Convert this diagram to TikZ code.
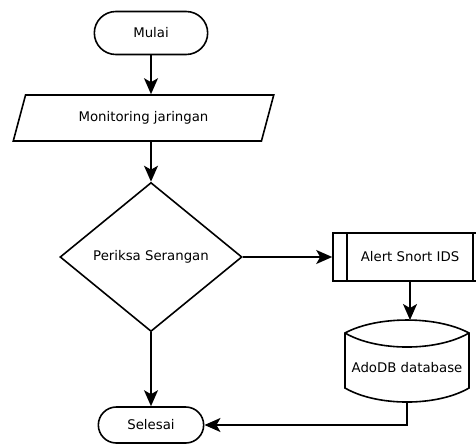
\documentclass[tikz,border=0pt]{standalone}
\usepackage{fontspec}
\setmainfont{DejaVu Sans}
\usetikzlibrary{shapes.geometric,shapes.misc,arrows.meta}
\tikzset{
  flow/.style={
    line width=1.6pt,
    -{Stealth[length=16pt,width=14pt,inset=4pt]}
  },
  terminal/.style={
    shape = rounded rectangle,
    draw,
    line width=1.6pt,
    minimum width=120pt,
    minimum height=43pt
  },
  inout/.style={
    shape = trapezium,
    trapezium left angle=70,
    trapezium right angle=110,
    trapezium stretches=true,
    draw,
    line width=1.6pt,
    minimum width=261pt,
    minimum height=46pt
  },
  decision/.style={
    shape = diamond,
    draw,
    line width=1.6pt,
    minimum width=182pt,
    minimum height=149pt
  },
  process/.style={
    shape = rectangle,
    draw,
    line width=1.6pt,
    minimum width=154pt,
    minimum height=48pt
  },
  every picture/.style = {
    font=\fontsize{13.3pt}{16pt}\selectfont
  }
}

\begin{document}
\begin{tikzpicture}[x=1pt,y=-1pt]
        \useasboundingbox (0,0) rectangle (476,444);
        \node[terminal] (mulai) at (151,33) {Mulai};
        \node[inout] (monitor) at (143.5,118) {Monitoring jaringan};
        \node[decision] (periksa) at (151,257) {Periksa Serangan};
        \node[process] (alert) at (410,257) {Alert Snort IDS};
        \draw[line width=1.6pt] ([xshift=15pt]alert.north west)--([xshift=15pt]alert.south west);
        \draw[line width=1.6pt] ([xshift=-15pt]alert.north east)--([xshift=-15pt]alert.south east);
        %database
        \begin{scope}[shift={(407,368)},line width=1.6pt]
          \draw (-62,-35) .. controls (-30,-52.3) and (30,-52.3) .. (62,-35)
            -- (62,20) .. controls (30,38.7) and (-30,38.7) .. (-62,20) -- cycle;
          \draw (-62,-35) .. controls (-30,-16.3) and (30,-16.3) .. (62,-35);
          \coordinate (dbtop) at (0,-48);
          \coordinate (dbbot) at (0,34);
        \end{scope}
        \node (adodb) at (407,368) {AdoDB database};
        \node[terminal,minimum width=112pt,minimum height=36pt] (selesai) at (151,425) {Selesai};
        \draw[flow] (mulai.south)--(mulai.south |- monitor.north);
        \draw[flow] (periksa.north |- monitor.south)--(periksa.north);
        \draw[flow] (periksa.east)--(alert.west);
        \draw[flow] (alert.south)--(alert.south |- dbtop);
        \draw[flow] (periksa.south)--(selesai.north);
        \draw[flow] (dbbot) |- (selesai.east);
    \end{tikzpicture}
\end{document}
